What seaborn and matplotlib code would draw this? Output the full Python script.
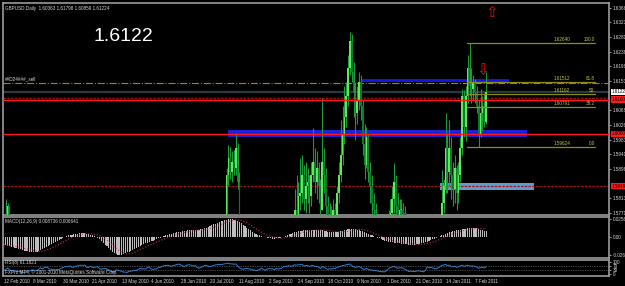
import matplotlib
matplotlib.use("Agg", force=True)
import matplotlib.pyplot as plt
import matplotlib.transforms as mtransforms
import numpy as np
import pandas as pd
import seaborn as sns

# closes before the first visible bar (only used to warm up RSI)
warmup_close = [
    1.6330, 1.6180, 1.6150,
    1.6080, 1.6000, 1.6020, 1.6050, 1.6040,
    1.5980, 1.5950, 1.6020, 1.6150, 1.6160,
    1.6090, 1.5980, 1.5980, 1.5970, 1.6020,
    1.6150, 1.6180, 1.6240, 1.6330, 1.6280,
    1.6340, 1.6460, 1.6330, 1.6240, 1.6150,
    1.6220, 1.6160, 1.6150, 1.6130, 1.5990,
    1.5920, 1.5950, 1.5780, 1.5630, 1.5620,
    1.5620, 1.5650, 1.5590, 1.5620,
]

# daily bars 12 Feb 2010 .. 15 Feb 2011
close = [
    1.5640,
    1.5700, 1.5790, 1.5620, 1.5490, 1.5460, 1.5480, 1.5390, 1.5330, 1.5250, 1.5240,
    1.4900, 1.4970, 1.5050, 1.5000, 1.5070, 1.4980, 1.4920, 1.4950, 1.5050, 1.5180,
    1.5030, 1.5190, 1.5270, 1.5160, 1.5000, 1.4960, 1.4970, 1.4850, 1.4920, 1.4840,
    1.4990, 1.5050, 1.5180, 1.5210, 1.5240, 1.5280, 1.5180, 1.5210, 1.5300, 1.5350,
    1.5430, 1.5450, 1.5440, 1.5460, 1.5350, 1.5330, 1.5440, 1.5380, 1.5370, 1.5390,
    1.5420, 1.5270, 1.5240, 1.5290, 1.5300, 1.5240, 1.5180, 1.5080, 1.4840, 1.4800,
    1.4960, 1.4900, 1.4830, 1.4650, 1.4470, 1.4420, 1.4320, 1.4420, 1.4350, 1.4400,
    1.4420, 1.4420, 1.4490, 1.4560, 1.4500, 1.4520, 1.4500, 1.4600, 1.4650, 1.4500,
    1.4420, 1.4460, 1.4470, 1.4610, 1.4590, 1.4700, 1.4780, 1.4800, 1.4840, 1.4820,
    1.4790, 1.4860, 1.4920, 1.4980, 1.5080, 1.5050, 1.5000, 1.4950, 1.5080, 1.5180,
    1.5200, 1.5160, 1.5130, 1.5180, 1.5080, 1.5000, 1.5080, 1.5140, 1.5300, 1.5340,
    1.5280, 1.5260, 1.5320, 1.5400, 1.5470, 1.5500, 1.5560, 1.5540, 1.5640, 1.5700,
    1.5880, 1.5930, 1.5890, 1.5920, 1.5900, 1.5960, 1.5860, 1.5720, 1.5640, 1.5580,
    1.5630, 1.5650, 1.5620, 1.5580, 1.5530, 1.5500, 1.5420, 1.5460, 1.5480, 1.5560,
    1.5460, 1.5370, 1.5450, 1.5480, 1.5450, 1.5460, 1.5380, 1.5450, 1.5400, 1.5430,
    1.5450, 1.5570, 1.5600, 1.5600, 1.5650, 1.5620, 1.5670, 1.5780, 1.5760, 1.5820,
    1.5830, 1.5880, 1.5810, 1.5850, 1.5860, 1.5820, 1.5880, 1.5920, 1.5860, 1.5900,
    1.5850, 1.5780, 1.5920, 1.5880, 1.5790, 1.5700, 1.5750, 1.5710, 1.5780, 1.5740,
    1.5830, 1.5880, 1.5940, 1.6000, 1.6050, 1.6110, 1.6190, 1.6270, 1.6180, 1.6120,
    1.6060, 1.6100, 1.6150, 1.6080, 1.5970, 1.5910, 1.5990, 1.5890, 1.5850, 1.5800,
    1.5780, 1.5750, 1.5700, 1.5630, 1.5600, 1.5580, 1.5570, 1.5620, 1.5700, 1.5770,
    1.5810, 1.5860, 1.5790, 1.5760, 1.5780, 1.5780, 1.5770, 1.5690, 1.5620, 1.5480,
    1.5500, 1.5450, 1.5430, 1.5440, 1.5460, 1.5420, 1.5390, 1.5350, 1.5390, 1.5600,
    1.5520, 1.5580, 1.5520, 1.5490, 1.5450, 1.5540, 1.5620, 1.5800, 1.5850, 1.5960,
    1.5890, 1.5960, 1.5880, 1.5840, 1.5900, 1.5830, 1.5880, 1.5960, 1.6110, 1.6020,
    1.6110, 1.6190, 1.6140, 1.6130, 1.6150, 1.6120, 1.6080, 1.6000, 1.6060, 1.6080,
    1.6036, 1.61224,
]
high = [
    1.5740,
    1.5812, 1.5800, 1.5790, 1.5640, 1.5520, 1.5530, 1.5490, 1.5420, 1.5380, 1.5300,
    1.5240, 1.5010, 1.5090, 1.5110, 1.5120, 1.5100, 1.5010, 1.4990, 1.5090, 1.5210,
    1.5200, 1.5220, 1.5300, 1.5280, 1.5170, 1.5050, 1.5020, 1.5010, 1.4960, 1.4950,
    1.5010, 1.5080, 1.5200, 1.5280, 1.5260, 1.5310, 1.5290, 1.5240, 1.5320, 1.5370,
    1.5450, 1.5490, 1.5470, 1.5510, 1.5470, 1.5380, 1.5470, 1.5460, 1.5400, 1.5410,
    1.5460, 1.5440, 1.5310, 1.5330, 1.5380, 1.5310, 1.5260, 1.5200, 1.5120, 1.4950,
    1.5100, 1.4980, 1.4920, 1.4850, 1.4670, 1.4560, 1.4450, 1.4470, 1.4480, 1.4490,
    1.4480, 1.4500, 1.4530, 1.4620, 1.4610, 1.4560, 1.4580, 1.4650, 1.4710, 1.4680,
    1.4520, 1.4500, 1.4550, 1.4630, 1.4680, 1.4750, 1.4800, 1.4850, 1.4890, 1.4870,
    1.4900, 1.4880, 1.4950, 1.5000, 1.5100, 1.5120, 1.5080, 1.5030, 1.5130, 1.5200,
    1.5230, 1.5240, 1.5200, 1.5220, 1.5190, 1.5100, 1.5100, 1.5180, 1.5340, 1.5380,
    1.5360, 1.5330, 1.5350, 1.5430, 1.5510, 1.5540, 1.5600, 1.5610, 1.5660, 1.5720,
    1.5900, 1.5968, 1.5962, 1.5950, 1.5955, 1.6003, 1.5975, 1.5890, 1.5740, 1.5660,
    1.5650, 1.5700, 1.5680, 1.5630, 1.5600, 1.5560, 1.5510, 1.5490, 1.5510, 1.5580,
    1.5570, 1.5470, 1.5460, 1.5500, 1.5520, 1.5510, 1.5470, 1.5470, 1.5480, 1.5460,
    1.5470, 1.5590, 1.5620, 1.5640, 1.5680, 1.5690, 1.5720, 1.5840, 1.5880, 1.5860,
    1.5930, 1.5940, 1.5910, 1.5920, 1.5900, 1.5880, 1.5920, 1.6018, 1.5960, 1.5950,
    1.5920, 1.5870, 1.6104, 1.5960, 1.5900, 1.5820, 1.5800, 1.5790, 1.5810, 1.5800,
    1.5850, 1.5920, 1.6041, 1.6080, 1.6140, 1.6150, 1.6230, 1.6296, 1.6290, 1.6210,
    1.6150, 1.6140, 1.6180, 1.6170, 1.6100, 1.6030, 1.6020, 1.6000, 1.5920, 1.5880,
    1.5830, 1.5800, 1.5760, 1.5710, 1.5660, 1.5640, 1.5620, 1.5680, 1.5780, 1.5810,
    1.5850, 1.5916, 1.5880, 1.5830, 1.5810, 1.5810, 1.5800, 1.5790, 1.5700, 1.5640,
    1.5530, 1.5530, 1.5490, 1.5480, 1.5490, 1.5480, 1.5450, 1.5420, 1.5440, 1.5620,
    1.5630, 1.5610, 1.5620, 1.5560, 1.5510, 1.5580, 1.5680, 1.5895, 1.5870, 1.6061,
    1.6000, 1.6040, 1.5990, 1.5920, 1.5940, 1.5910, 1.5920, 1.5990, 1.6130, 1.6128,
    1.6140, 1.6230, 1.6264, 1.6190, 1.6170, 1.6160, 1.6140, 1.6100, 1.6130, 1.6110,
    1.6120, 1.61798,
]
low = [
    1.5560,
    1.5600, 1.5680, 1.5560, 1.5440, 1.5360, 1.5400, 1.5360, 1.5280, 1.5200, 1.5160,
    1.4780, 1.4850, 1.4930, 1.4950, 1.4940, 1.4920, 1.4860, 1.4880, 1.4940, 1.5020,
    1.4990, 1.5020, 1.5160, 1.5120, 1.4980, 1.4920, 1.4900, 1.4830, 1.4780, 1.4770,
    1.4830, 1.4950, 1.5010, 1.5130, 1.5190, 1.5200, 1.5150, 1.5150, 1.5190, 1.5280,
    1.5330, 1.5390, 1.5390, 1.5400, 1.5310, 1.5250, 1.5320, 1.5370, 1.5300, 1.5300,
    1.5350, 1.5250, 1.5150, 1.5200, 1.5270, 1.5200, 1.5150, 1.5040, 1.4730, 1.4660,
    1.4800, 1.4810, 1.4760, 1.4630, 1.4420, 1.4240, 1.4290, 1.4230, 1.4280, 1.4310,
    1.4320, 1.4270, 1.4380, 1.4450, 1.4430, 1.4460, 1.4380, 1.4450, 1.4560, 1.4470,
    1.4370, 1.4400, 1.4420, 1.4450, 1.4560, 1.4570, 1.4660, 1.4720, 1.4780, 1.4780,
    1.4740, 1.4760, 1.4850, 1.4900, 1.4950, 1.4990, 1.4930, 1.4920, 1.4940, 1.5050,
    1.5150, 1.5080, 1.5070, 1.5110, 1.5060, 1.4960, 1.4990, 1.5040, 1.5110, 1.5250,
    1.5190, 1.5210, 1.5230, 1.5300, 1.5380, 1.5440, 1.5470, 1.5480, 1.5510, 1.5600,
    1.5690, 1.5850, 1.5870, 1.5860, 1.5880, 1.5880, 1.5840, 1.5700, 1.5600, 1.5550,
    1.5560, 1.5590, 1.5580, 1.5510, 1.5500, 1.5460, 1.5350, 1.5400, 1.5420, 1.5450,
    1.5430, 1.5340, 1.5360, 1.5420, 1.5400, 1.5400, 1.5330, 1.5360, 1.5370, 1.5380,
    1.5390, 1.5420, 1.5530, 1.5550, 1.5570, 1.5580, 1.5590, 1.5650, 1.5720, 1.5730,
    1.5780, 1.5800, 1.5780, 1.5770, 1.5800, 1.5760, 1.5790, 1.5860, 1.5830, 1.5810,
    1.5800, 1.5760, 1.5790, 1.5830, 1.5760, 1.5680, 1.5650, 1.5650, 1.5700, 1.5700,
    1.5720, 1.5800, 1.5860, 1.5910, 1.5970, 1.6020, 1.6080, 1.6170, 1.6150, 1.6050,
    1.5983, 1.6030, 1.6070, 1.6040, 1.5940, 1.5870, 1.5900, 1.5860, 1.5800, 1.5760,
    1.5720, 1.5700, 1.5650, 1.5600, 1.5560, 1.5530, 1.5500, 1.5540, 1.5600, 1.5660,
    1.5740, 1.5770, 1.5720, 1.5690, 1.5720, 1.5700, 1.5700, 1.5660, 1.5560, 1.5440,
    1.5420, 1.5400, 1.5380, 1.5400, 1.5420, 1.5380, 1.5350, 1.5300, 1.5340, 1.5380,
    1.5460, 1.5490, 1.5490, 1.5430, 1.5400, 1.5430, 1.5520, 1.5600, 1.5770, 1.5830,
    1.5830, 1.5850, 1.5810, 1.5790, 1.5800, 1.5780, 1.5800, 1.5860, 1.5940, 1.5990,
    1.5980, 1.6090, 1.6110, 1.6090, 1.6100, 1.6090, 1.6060, 1.5962, 1.5990, 1.6010,
    1.6020, 1.6030,
]

# MACD main line per bar (units of 0.001)
macd_milli = [
    -11.0, -11.8, -12.3, -13.2, -14.0, -14.6, -15.1, -15.9, -16.7, -17.3,
    -17.8, -19.4, -20.3, -20.6, -21.0, -20.8, -20.9, -21.2, -20.7, -19.6,
    -18.8, -17.5, -15.9, -14.1, -12.6, -11.6, -10.4, -9.1, -7.6, -6.0,
    -4.5, -3.0, -1.4, 0.2, 1.3, 2.2, 3.0, 3.5, 3.8, 4.3,
    4.8, 5.2, 5.4, 5.3, 5.0, 4.4, 3.6, 3.0, 2.2, 1.3,
    0.2, -1.5, -3.4, -5.6, -8.1, -10.8, -13.4, -16.0, -18.7, -21.3,
    -23.2, -24.8, -25.6, -25.9, -25.4, -24.5, -23.4, -22.0, -20.9, -19.6,
    -18.2, -16.7, -15.5, -14.2, -12.8, -11.5, -10.3, -9.1, -8.0, -7.2,
    -6.1, -5.2, -4.3, -3.2, -2.1, -0.9, 0.3, 1.2, 2.2, 3.0,
    3.7, 4.5, 5.3, 6.0, 6.6, 7.2, 7.8, 8.2, 8.5, 8.9,
    9.3, 9.6, 9.8, 9.9, 10.1, 10.3, 10.6, 11.0, 11.6, 12.5,
    13.5, 14.6, 15.7, 16.9, 18.1, 19.2, 20.3, 21.4, 22.4, 23.3,
    24.0, 24.7, 25.2, 25.5, 25.3, 24.7, 23.8, 22.6, 21.0, 19.3,
    17.4, 15.5, 13.5, 11.5, 9.6, 7.8, 6.2, 4.8, 3.5, 2.4,
    1.4, 0.5, -0.3, -1.0, -1.6, -2.0, -2.3, -2.2, -2.0, -1.6,
    -1.1, -0.4, 0.4, 1.4, 2.5, 3.6, 4.7, 5.7, 6.6, 7.4,
    8.0, 8.5, 8.9, 9.3, 9.6, 9.8, 10.0, 10.2, 10.4, 10.5,
    10.4, 10.1, 9.7, 9.3, 8.8, 8.3, 7.8, 7.3, 6.9, 6.7,
    6.6, 6.8, 7.3, 8.0, 8.9, 9.7, 10.4, 10.9, 11.3, 11.4,
    11.3, 11.0, 10.5, 9.9, 9.0, 8.0, 6.9, 5.8, 4.6, 3.4,
    2.2, 1.1, 0.1, -1.0, -2.1, -3.2, -4.2, -5.1, -5.9, -6.6,
    -7.2, -7.6, -7.9, -8.2, -8.6, -9.0, -9.4, -9.9, -10.3, -10.6,
    -10.9, -11.1, -11.0, -10.8, -10.5, -10.1, -9.6, -9.0, -8.3, -7.5,
    -6.6, -5.6, -4.6, -3.5, -2.4, -1.3, -0.2, 1.0, 2.2, 3.4,
    4.6, 5.7, 6.7, 7.6, 8.4, 9.1, 9.7, 10.2, 10.6, 11.0,
    11.4, 11.8, 12.2, 12.5, 12.7, 12.8, 12.6, 12.2, 11.5, 10.6,
    9.8, 9.2, 8.7,
]

date_ticks = [0, 16, 32, 48, 64, 80, 96, 112, 128, 144, 160, 176, 192, 208, 224, 240, 256]
date_labels = ["12 Feb 2010", "8 Mar 2010", "30 Mar 2010", "21 Apr 2010", "13 May 2010",
               "4 Jun 2010", "28 Jun 2010", "20 Jul 2010", "11 Aug 2010", "2 Sep 2010",
               "24 Sep 2010", "18 Oct 2010", "9 Nov 2010", "1 Dec 2010", "21 Dec 2010",
               "14 Jan 2011", "7 Feb 2011"]
price_ticks = [1.63663, 1.63238, 1.62813, 1.62388, 1.61963, 1.61538, 1.60688,
               1.60263, 1.59838, 1.59413, 1.58988, 1.58138, 1.57713]
macd_ticks = [0.02567, 0.0, -0.02604]
macd_tick_labels = ["0.02567", "0.00", "-0.02604"]
rsi_ticks = [100, 70, 30, 0]

fib_prices = [1.62640, 1.61512, 1.61162, 1.60791, 1.59624]
fib_levels = ["100.0", "61.8", "50.", "38.2", "0.0"]

red_lines = [1.6100, 1.6000]
red_line_labels = ["1.61000", "1.60000"]
dotted_red_lines = [1.6105, 1.5849]
dashdot_line = 1.6148
last_price = 1.61224

# zones: (first bar, last bar, low price, high price, colour)
zones = [
    (194, 274.5, 1.6151, 1.6160, "#1414e6"),
    (121.5, 284.5, 1.5991, 1.6012, "#2020d8"),
    (237, 288, 1.5838, 1.5858, "#5d9ccc"),
]

sns.set_style("dark", {"axes.facecolor": "black", "figure.facecolor": "black"})
plt.rcParams["font.family"] = ["Liberation Sans", "DejaVu Sans"]

n_warm = len(warmup_close)
all_close = pd.Series(warmup_close + close)
delta = all_close.diff()
gain = delta.clip(lower=0).ewm(alpha=1 / 8, adjust=False).mean()
loss = (-delta.clip(upper=0)).ewm(alpha=1 / 8, adjust=False).mean()
rsi_all = 100 - 100 / (1 + gain / loss)

bars = pd.DataFrame({"close": close, "high": high, "low": low})
bars["idx"] = np.arange(len(bars))
bars["open"] = all_close.shift(1).iloc[n_warm:].to_numpy()
bars["high"] = bars[["high", "open", "close"]].max(axis=1)
bars["low"] = bars[["low", "open", "close"]].min(axis=1)
bars["macd"] = np.array(macd_milli) / 1000
bars["signal"] = bars["macd"].rolling(9, min_periods=1).mean()
bars["rsi"] = rsi_all.iloc[n_warm:].to_numpy()

W, H = 625, 286
fig = plt.figure(figsize=(W / 100, H / 100), dpi=100, facecolor="black")


def px_axes(x0, y0, x1, y1):
    return fig.add_axes([x0 / W, 1 - y1 / H, (x1 - x0) / W, (y1 - y0) / H])


ax = px_axes(3, 3, 609, 215)
ax_m = px_axes(3, 217, 609, 258)
ax_r = px_axes(3, 260, 609, 276)

xlim = (-0.5, 328.8)
grey = "#9a9a9a"
txt = "#d8d8d8"
small = 3.3

for a in (ax, ax_m, ax_r):
    a.set_facecolor("black")
    a.set_xlim(*xlim)
    for s in a.spines.values():
        s.set_color(grey)
        s.set_linewidth(1.2)
    a.yaxis.tick_right()
    a.tick_params(axis="y", colors=txt, labelsize=small, length=1.5, width=0.5, pad=1)
    a.tick_params(axis="x", colors=txt, labelsize=small, length=0, pad=1)
    a.set_xticks([])
    a.grid(False)

# ---- price panel
ax.set_ylim(1.5765, 1.6380)
for x0, x1, lo, hi, col in zones:
    ax.fill_between([x0, x1], lo, hi, color=col, lw=0, zorder=1)
ax.axhline(dashdot_line, color="#b8733a", lw=0.8, ls="-.", zorder=2)
ax.axhline(last_price, color="#2a3840", lw=1.6, zorder=2)
for p in dotted_red_lines:
    ax.axhline(p, color="#a81414", lw=0.9, ls=(0, (2, 1)), zorder=2)
for p in red_lines:
    ax.axhline(p, color="#ff1a1a", lw=1.0, zorder=4)

up = bars["close"] >= bars["open"]
body_lo = bars[["open", "close"]].min(axis=1)
body_h = (bars["close"] - bars["open"]).abs().clip(lower=0.0002)
ax.vlines(bars["idx"], bars["low"], bars["high"], color="#1c9a3a", lw=0.8, zorder=3)
ax.bar(bars["idx"][up], body_h[up], bottom=body_lo[up], width=0.9, color="#5fe85a", lw=0, zorder=3)
ax.bar(bars["idx"][~up], body_h[~up], bottom=body_lo[~up], width=0.9, color="#0e7a2c", lw=0, zorder=3)

for p, lev in zip(fib_prices, fib_levels):
    ax.plot([251.7, 321.2], [p, p], color="#8c8c18", lw=0.9, zorder=5)
    ax.text(307.7, p + 0.0002, f"{p:.5f}", color="#c8c832", fontsize=small, ha="right", va="bottom", zorder=6)
    ax.text(321.0, p + 0.0002, lev, color="#c8c832", fontsize=small, ha="right", va="bottom", zorder=6)

ax.text(265.3, 1.6351, "\u21e7", color="#e01010", fontsize=11, ha="center", va="center", family="DejaVu Sans")
ax.text(260.4, 1.6186, "\u21e9", color="#e01010", fontsize=11, ha="center", va="center", family="DejaVu Sans")

ax.set_yticks(price_ticks)
ax.set_yticklabels([f"{t:.5f}" for t in price_ticks])
right = mtransforms.blended_transform_factory(ax.transAxes, ax.transData)
ax.text(1.004, last_price, f"{last_price:.5f}", transform=right, fontsize=small, color="black",
        va="center", ha="left", bbox=dict(facecolor="white", edgecolor="none", pad=0.5), zorder=7)
for p, lab in zip(red_lines + [dotted_red_lines[1]], red_line_labels + ["1.58490"]):
    ax.text(1.004, p, lab, transform=right, fontsize=small, color="black", va="center", ha="left",
            bbox=dict(facecolor="#ff1a1a", edgecolor="none", pad=0.5), zorder=7)

ax.text(0.003, 0.985, "GBPUSD,Daily  1.60363 1.61798 1.60859 1.61224", transform=ax.transAxes,
        color=txt, fontsize=small, va="top", ha="left")
ax.text(0.198, 0.844, "1.6122", transform=ax.transAxes, color="white", fontsize=14,
        va="center", ha="center")
ax.text(0.003, 0.64, "##D24###_sell", transform=ax.transAxes, color=txt, fontsize=small,
        va="center", ha="left")

# ---- MACD panel
ax_m.set_ylim(-0.0299, 0.0285)
ax_m.bar(bars["idx"], bars["macd"], width=0.6, color="#bdbdbd", lw=0)
sns.lineplot(x=bars["idx"], y=bars["signal"], ax=ax_m, color="#c8305a", lw=0.8, ls=":")
ax_m.set_yticks(macd_ticks)
ax_m.set_yticklabels(macd_tick_labels)
ax_m.set_xticks([])
ax_m.set_xlabel("")
ax_m.set_ylabel("")
ax_m.text(0.003, 0.96, "MACD(12,26,9) 0.008736 0.006641", transform=ax_m.transAxes, color=txt,
          fontsize=small, va="top", ha="left")

# ---- RSI panel
ax_r.set_ylim(-15, 115)
ax_r.axhline(70, color="#8a8a8a", lw=0.5, ls=(0, (1, 1.5)))
ax_r.axhline(30, color="#8a8a8a", lw=0.5, ls=(0, (1, 1.5)))
sns.lineplot(x=bars["idx"], y=bars["rsi"], ax=ax_r, color="#2f7fd6", lw=0.7)
ax_r.set_yticks(rsi_ticks)
ax_r.set_yticklabels([str(t) for t in rsi_ticks])
ax_r.set_xlabel("")
ax_r.set_ylabel("")
ax_r.text(0.003, 0.97, "RSI(8) 61.1821", transform=ax_r.transAxes, color=txt, fontsize=small,
          va="top", ha="left")
ax_r.text(0.003, 0.06, "FXPro MT4, \u00a9 2001-2010 MetaQuotes Software Corp.", transform=ax_r.transAxes,
          color=txt, fontsize=small, va="bottom", ha="left")
ax_r.set_xticks(date_ticks)
ax_r.set_xticklabels(date_labels, ha="left")
ax_r.tick_params(axis="x", length=1.5, width=0.5, colors=txt)
ax_r.set_xlim(*xlim)

fig.savefig("out.png", dpi=100, facecolor="black")
